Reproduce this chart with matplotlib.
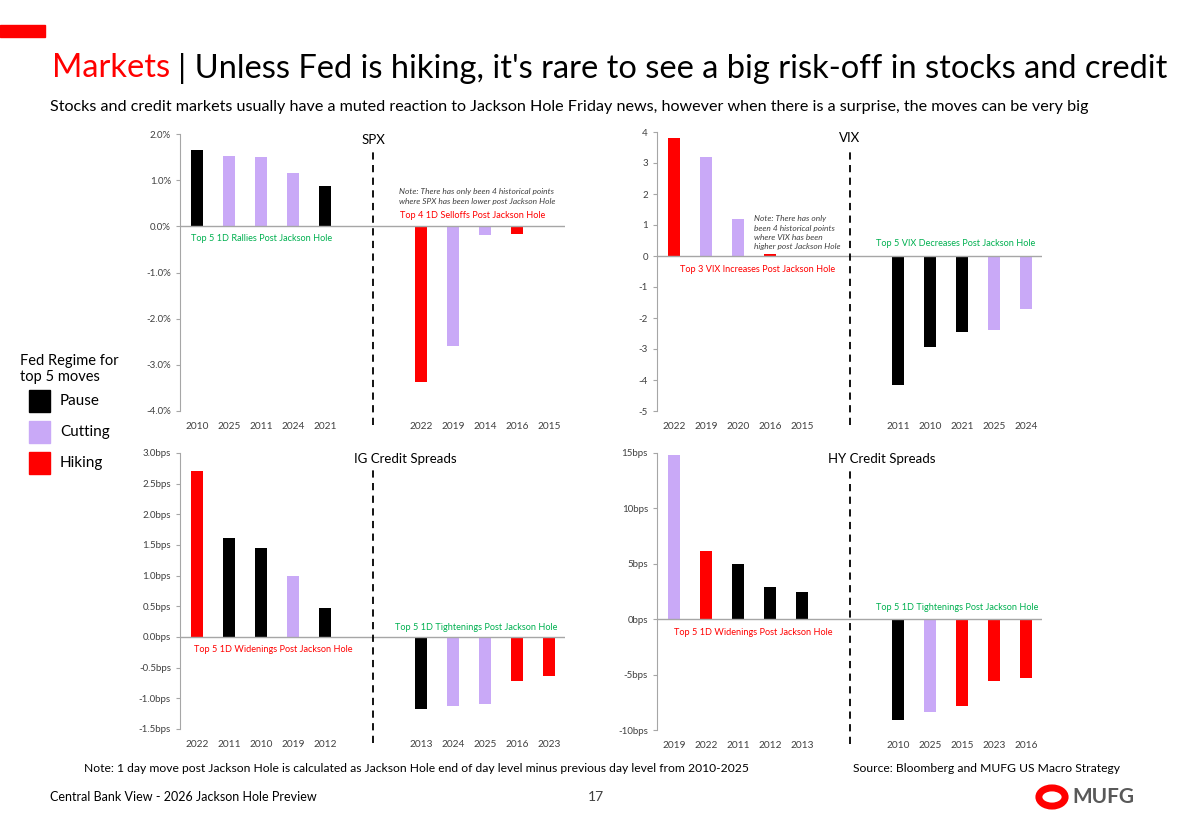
import matplotlib
matplotlib.use("Agg")
import matplotlib.pyplot as plt
from matplotlib.patches import Rectangle, Circle

plt.rcParams['font.family'] = ['Lato', 'DejaVu Sans']

BLACK, LILAC, RED = '#000000', '#c9a9f7', '#ff0000'
GREEN = '#00b050'
cmap = {'P': BLACK, 'C': LILAC, 'H': RED}

spx_years = ['2010','2025','2011','2024','2021','2022','2019','2014','2016','2015']
spx_vals = [1.65,1.52,1.50,1.15,0.88,-3.37,-2.60,-0.19,-0.16,0.0]
spx_reg = ['P','C','C','C','P','H','C','C','H','C']

vix_years = ['2022','2019','2020','2016','2015','2011','2010','2021','2025','2024']
vix_vals = [3.8,3.2,1.2,0.05,0.0,-4.17,-2.93,-2.45,-2.38,-1.70]
vix_reg = ['H','C','C','H','H','P','P','P','C','C']

ig_years = ['2022','2011','2010','2019','2012','2013','2024','2025','2016','2023']
ig_vals = [2.70,1.62,1.45,1.00,0.47,-1.17,-1.13,-1.10,-0.72,-0.64]
ig_reg = ['H','P','P','C','P','P','C','C','H','H']

hy_years = ['2019','2022','2011','2012','2013','2010','2025','2015','2023','2016']
hy_vals = [14.8,6.2,5.0,2.9,2.5,-9.1,-8.4,-7.8,-5.6,-5.3]
hy_reg = ['C','H','P','P','P','P','C','H','H','H']

W, H = 1192, 825
fig = plt.figure(figsize=(W/100, H/100), dpi=100)

def ax_at(l, t, r, b):
    return fig.add_axes([l/W, 1-b/H, (r-l)/W, (b-t)/H])

POS = [0,1,2,3,4,7,8,9,10,11]

def panel(rect, years, vals, reg, ylim, yticks, fmt, title, texts):
    ax = ax_at(*rect)
    ax.bar(POS, vals, width=0.35, color=[cmap[r] for r in reg])
    ax.set_xlim(-0.53, 11.5)
    ax.set_ylim(*ylim)
    ax.set_yticks(yticks)
    ax.set_yticklabels([fmt(v) for v in yticks], fontsize=7, color='#404040')
    ax.axhline(0, color='#a6a6a6', lw=1)
    for s in ['top','right','bottom']:
        ax.spines[s].set_visible(False)
    ax.spines['left'].set_color('#a6a6a6')
    ax.tick_params(axis='y', length=3, color='#a6a6a6')
    ax.tick_params(axis='x', length=0, pad=8)
    ax.set_xticks(POS)
    ax.set_xticklabels(years, fontsize=7.3, color='#404040')
    if title in ('SPX', 'VIX'):
        ax.text(5.5, 1.0, title, transform=ax.get_xaxis_transform(), fontsize=9.5, va='top', ha='center')
        ax.axvline(5.5, color='black', ls=(0,(4,3)), lw=1.3, ymin=-0.05, ymax=0.94, clip_on=False)
    else:
        ax.text(6.5, 1.0, title, transform=ax.get_xaxis_transform(), fontsize=9.5, va='top', ha='center')
        ax.axvline(5.5, color='black', ls=(0,(4,3)), lw=1.3, ymin=-0.05, ymax=0.94, clip_on=False)
    for (tx, ty, s, c, kw) in texts:
        ax.text(tx, ty, s, color=c, fontsize=kw.get('fs', 6.6), style=kw.get('style','normal'),
                ha='left', va='center', linespacing=1.4)
    return ax

pct = lambda v: f'{v:.1f}%'
panel((180,134,565,411), spx_years, spx_vals, spx_reg, (-4,2), [2,1,0,-1,-2,-3,-4], pct, 'SPX',
      [(-0.2,-0.26,'Top 5 1D Rallies Post Jackson Hole',GREEN,{}),
       (6.3,0.65,'Note: There has only been 4 historical points\nwhere SPX has been lower post Jackson Hole','#404040',{'style':'italic','fs':6}),
       (6.35,0.24,'Top 4 1D Selloffs Post Jackson Hole',RED,{})])
panel((657,132,1042,411), vix_years, vix_vals, vix_reg, (-5,4), [4,3,2,1,0,-1,-2,-3,-4,-5], lambda v: f'{v:g}', 'VIX',
      [(0.2,-0.45,'Top 3 VIX Increases Post Jackson Hole',RED,{}),
       (2.5,0.75,'Note: There has only\nbeen 4 historical points\nwhere VIX has been\nhigher post Jackson Hole','#404040',{'style':'italic','fs':6}),
       (6.3,0.4,'Top 5 VIX Decreases Post Jackson Hole',GREEN,{})])
igt = [3.0,2.5,2.0,1.5,1.0,0.5,0,-0.5,-1.0,-1.5]
panel((180,453,565,729), ig_years, ig_vals, ig_reg, (-1.5,3.0), igt, lambda v: f'{v:.1f}bps', 'IG Credit Spreads',
      [(-0.1,-0.21,'Top 5 1D Widenings Post Jackson Hole',RED,{}),
       (6.2,0.16,'Top 5 1D Tightenings Post Jackson Hole',GREEN,{})])
hyt = [15,10,5,0,-5,-10]
panel((657,453,1042,730), hy_years, hy_vals, hy_reg, (-10,15), hyt, lambda v: f'{v:g}bps', 'HY Credit Spreads',
      [(0.0,-1.2,'Top 5 1D Widenings Post Jackson Hole',RED,{}),
       (6.3,1.1,'Top 5 1D Tightenings Post Jackson Hole',GREEN,{})])

# header
fig.patches.append(Rectangle((0, 1-37/H), 45/W, 12/H, transform=fig.transFigure, color=RED))
fig.text(52/W, 1-68/H, 'Markets', fontsize=23.5, color=RED, va='center')
fig.text(178/W, 1-68/H, '| Unless Fed is hiking, it\'s rare to see a big risk-off in stocks and credit', fontsize=23.5, color='black', va='center')
fig.text(50/W, 1-107/H, 'Stocks and credit markets usually have a muted reaction to Jackson Hole Friday news, however when there is a surprise, the moves can be very big',
         fontsize=11.6, va='center')

# legend
fig.text(20/W, 1-369/H, 'Fed Regime for\ntop 5 moves', fontsize=10.5, va='center', linespacing=1.2)
for i, (lab, c) in enumerate([('Pause', BLACK), ('Cutting', LILAC), ('Hiking', RED)]):
    y = 401 + i*31
    fig.patches.append(Rectangle((29/W, 1-(y+11)/H), 21/W, 22/H, transform=fig.transFigure, color=c))
    fig.text(60/W, 1-y/H, lab, fontsize=11, va='center')

fig.text(84/W, 1-768/H, 'Note: 1 day move post Jackson Hole is calculated as Jackson Hole end of day level minus previous day level from 2010-2025', fontsize=8.75, va='center')
fig.text(853/W, 1-768/H, 'Source: Bloomberg and MUFG US Macro Strategy', fontsize=8.75, va='center')
fig.text(50/W, 1-797/H, 'Central Bank View - 2026 Jackson Hole Preview', fontsize=9, va='center')
fig.text(596/W, 1-797/H, '17', fontsize=10, va='center', ha='center', color='#404040')
fig.text(1072/W, 1-797/H, 'MUFG', fontsize=15, weight='bold', va='center', color='#595959')
fig.patches.append(Circle((1052/W, 1-797/H), 0.011, transform=fig.transFigure, fill=False, ec=RED, lw=5))

fig.savefig('out.png', dpi=100, facecolor='white')
